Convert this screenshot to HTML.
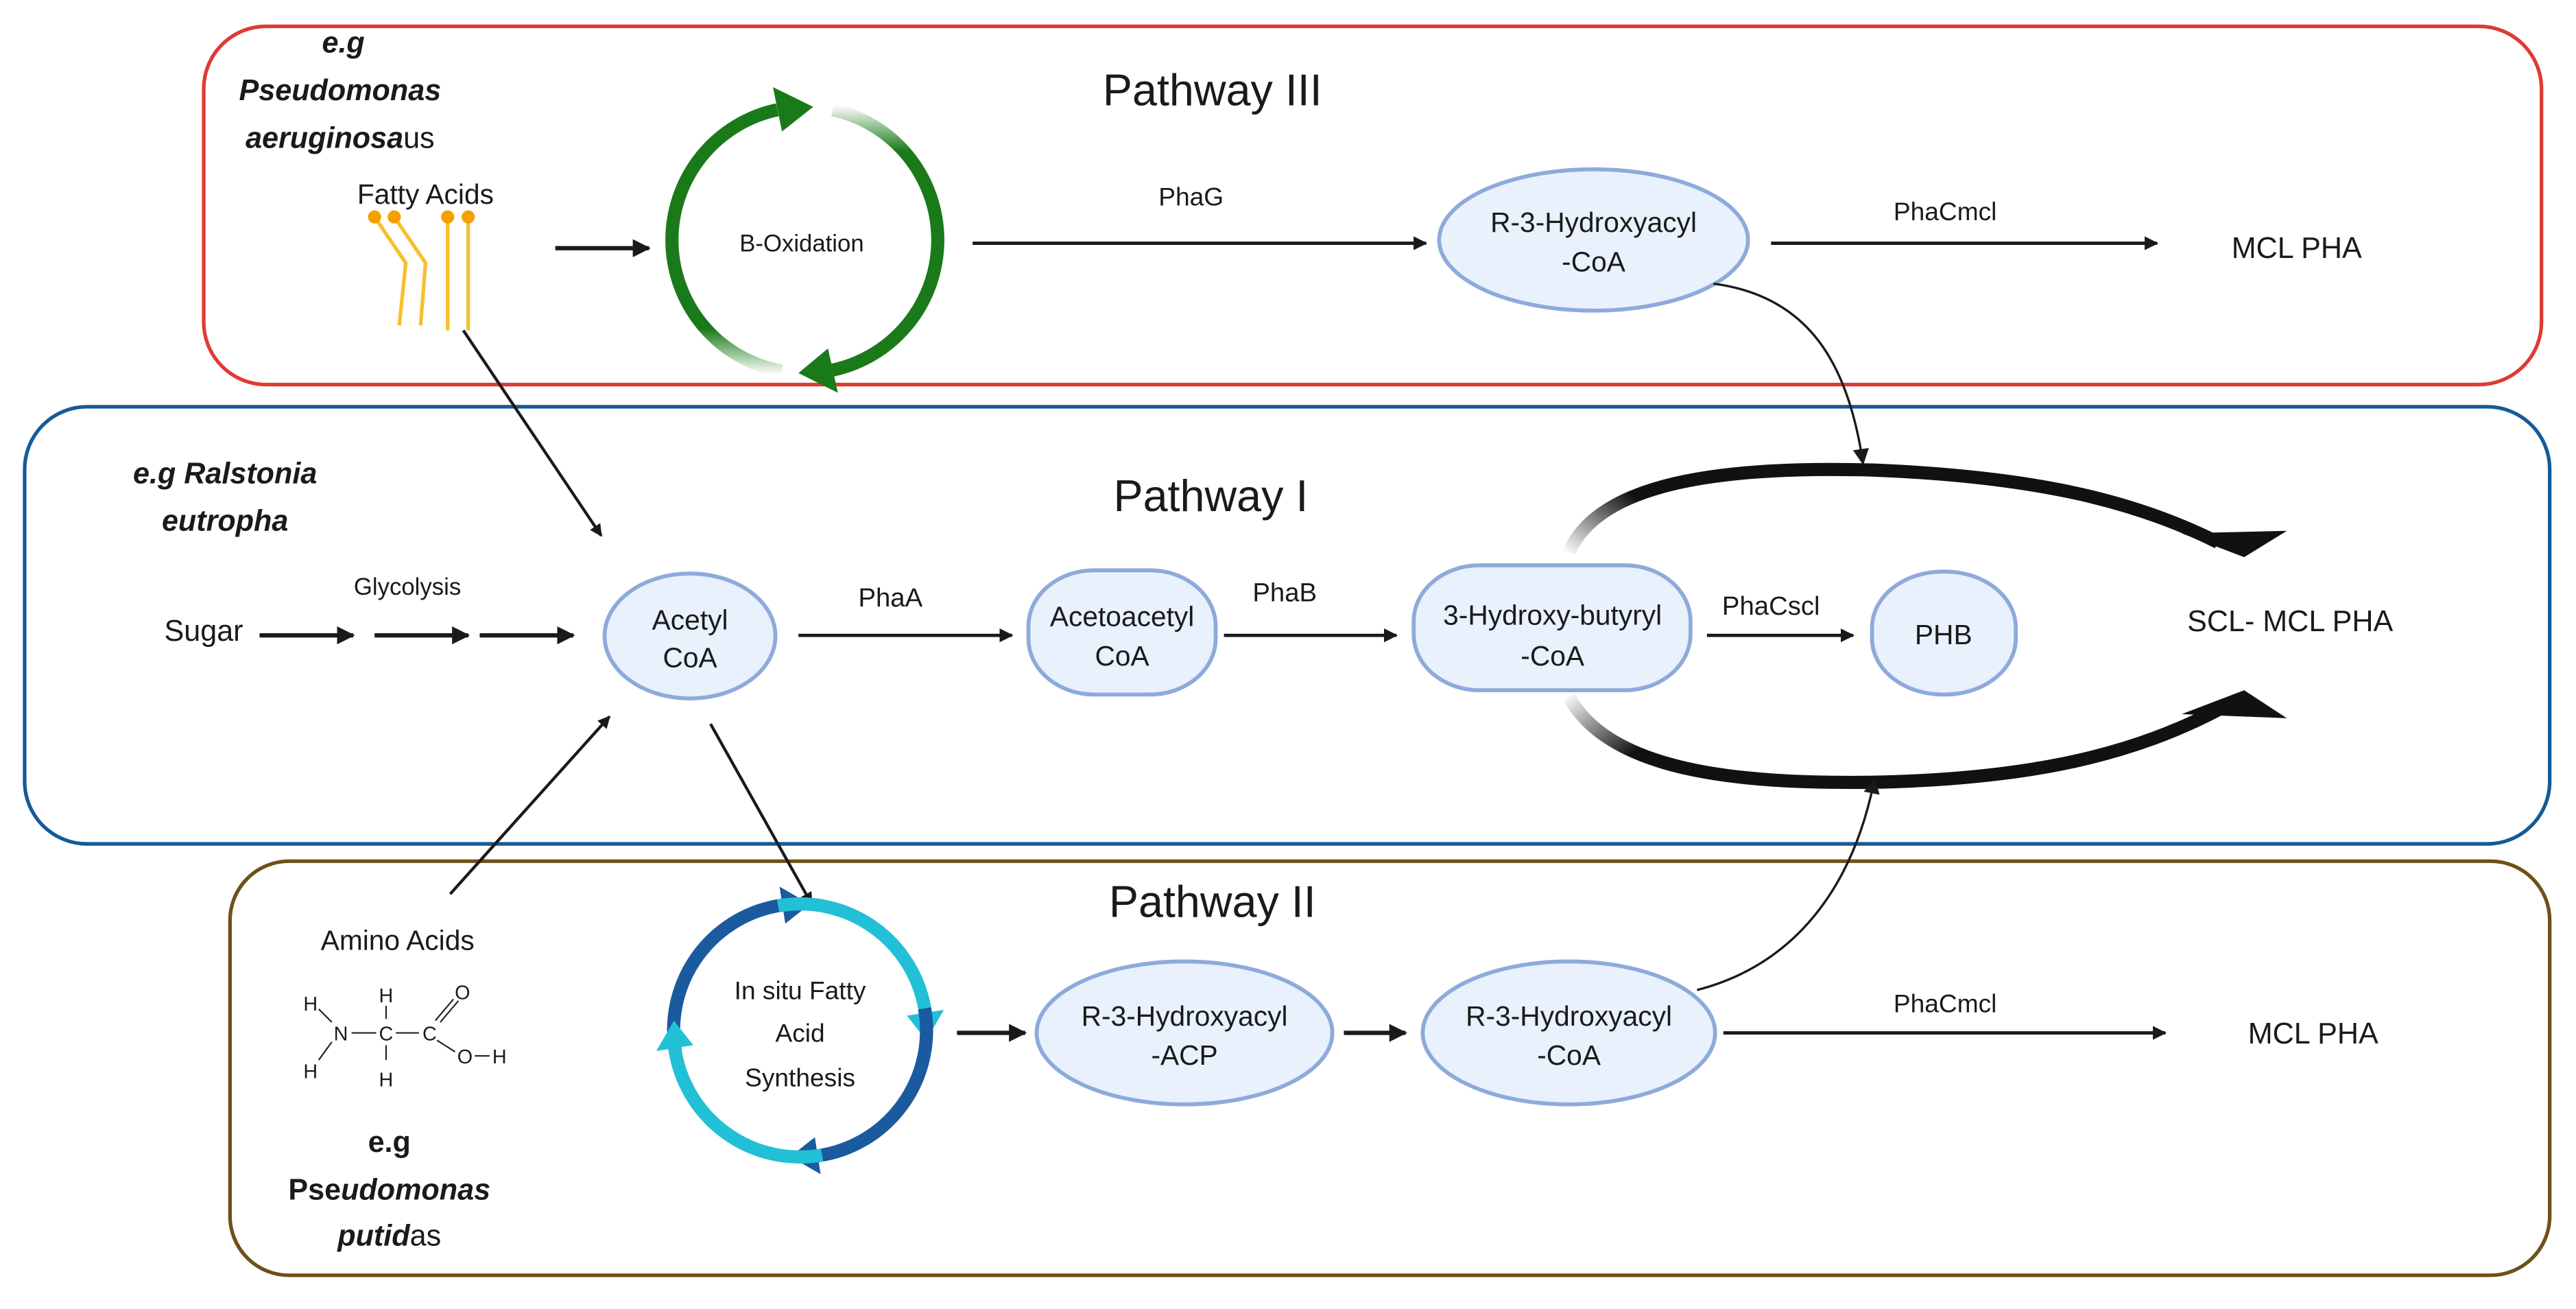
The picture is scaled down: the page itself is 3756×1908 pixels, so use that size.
<!DOCTYPE html>
<html><head><meta charset="utf-8"><style>
html,body{margin:0;padding:0;background:#fff;}
svg{display:block;}
text{font-family:"Liberation Sans",sans-serif;fill:#1a1a1a;}
</style></head><body>
<svg width="3756" height="1908" viewBox="0 0 1568 796.5" xmlns="http://www.w3.org/2000/svg">
<defs>
<marker id="ah" viewBox="0 0 10 10" refX="9" refY="5" markerWidth="4.2" markerHeight="4.2" orient="auto" markerUnits="strokeWidth"><path d="M0,0 L10,5 L0,10 z" fill="#1a1a1a"/></marker>
<marker id="ahs" viewBox="0 0 10 10" refX="9" refY="5" markerWidth="7" markerHeight="7" orient="auto" markerUnits="strokeWidth"><path d="M0,0 L10,5 L0,10 z" fill="#1a1a1a"/></marker>
<linearGradient id="gL" gradientUnits="userSpaceOnUse" x1="0" y1="228" x2="0" y2="200"><stop offset="0" stop-color="#1a7a1a" stop-opacity="0"/><stop offset="1" stop-color="#1a7a1a"/></linearGradient>
<linearGradient id="gR" gradientUnits="userSpaceOnUse" x1="0" y1="64" x2="0" y2="92"><stop offset="0" stop-color="#1a7a1a" stop-opacity="0"/><stop offset="1" stop-color="#1a7a1a"/></linearGradient>
<linearGradient id="bT" gradientUnits="userSpaceOnUse" x1="955" y1="338" x2="985" y2="295"><stop offset="0" stop-color="#111" stop-opacity="0"/><stop offset="1" stop-color="#111"/></linearGradient>
<linearGradient id="bB" gradientUnits="userSpaceOnUse" x1="955" y1="422" x2="985" y2="465"><stop offset="0" stop-color="#111" stop-opacity="0"/><stop offset="1" stop-color="#111"/></linearGradient>
</defs>

<!-- boxes -->
<rect x="124" y="16" width="1423" height="218" rx="38" fill="none" stroke="#e03a34" stroke-width="2.2"/>
<rect x="15" y="247.5" width="1537" height="266" rx="38" fill="none" stroke="#155a96" stroke-width="2.2"/>
<rect x="140" y="524" width="1412" height="252" rx="36" fill="none" stroke="#6e5018" stroke-width="2.2"/>

<!-- titles -->
<text x="738" y="64" font-size="27" text-anchor="middle">Pathway III</text>
<text x="737" y="311" font-size="27" text-anchor="middle">Pathway I</text>
<text x="738" y="558" font-size="27" text-anchor="middle">Pathway II</text>

<!-- pathway III -->
<g font-weight="bold" font-style="italic" font-size="18" text-anchor="middle">
<text x="209" y="32">e.g</text>
<text x="207" y="61">Pseudomonas</text>
<text x="207" y="90">aeruginosa<tspan font-style="normal" font-weight="normal">us</tspan></text>
</g>
<text x="259" y="124" font-size="17" text-anchor="middle">Fatty Acids</text>
<g stroke="#f6c02c" stroke-width="2.2" fill="none">
<polyline points="228,132 247,160 243,198"/>
<polyline points="240,132 259,160 256,198"/>
<line x1="272.5" y1="132" x2="272.5" y2="201"/>
<line x1="285" y1="132" x2="285" y2="201"/>
</g>
<g fill="#f5a000"><circle cx="228" cy="132" r="4"/><circle cx="240" cy="132" r="4"/><circle cx="272.5" cy="132" r="4"/><circle cx="285" cy="132" r="4"/></g>
<line x1="338" y1="151" x2="395" y2="151" stroke="#1a1a1a" stroke-width="2.6" marker-end="url(#ah)"/>

<path d="M475.9,225.8 A81,81 0 0 1 473.2,66.8" fill="none" stroke="url(#gL)" stroke-width="8"/>
<polygon points="470.5,53 495,65 476,80" fill="#1a7a1a"/>
<path d="M506.8,66.8 A81,81 0 0 1 506.8,225.2" fill="none" stroke="url(#gR)" stroke-width="8"/>
<polygon points="510,239 486,227 504,212" fill="#1a7a1a"/>
<text x="488" y="153" font-size="14.5" text-anchor="middle">B-Oxidation</text>

<line x1="592" y1="148" x2="868" y2="148" stroke="#1a1a1a" stroke-width="2" marker-end="url(#ah)"/>
<text x="725" y="125" font-size="15.5" text-anchor="middle">PhaG</text>
<ellipse cx="970" cy="146" rx="94" ry="43" fill="#e8f1fc" stroke="#8eaadb" stroke-width="2.4"/>
<text x="970" y="141" font-size="17" text-anchor="middle">R-3-Hydroxyacyl</text>
<text x="970" y="165" font-size="17" text-anchor="middle">-CoA</text>
<line x1="1078" y1="148" x2="1313" y2="148" stroke="#1a1a1a" stroke-width="2" marker-end="url(#ah)"/>
<text x="1184" y="134" font-size="15.5" text-anchor="middle">PhaCmcl</text>
<text x="1398" y="157" font-size="18" text-anchor="middle">MCL PHA</text>
<path d="M1043,172.6 C1100,180 1125,220 1134,282" fill="none" stroke="#1a1a1a" stroke-width="1.4" marker-end="url(#ahs)"/>

<!-- pathway I -->
<g font-weight="bold" font-style="italic" font-size="18" text-anchor="middle">
<text x="137" y="294">e.g Ralstonia</text>
<text x="137" y="323">eutropha</text>
</g>
<text x="124" y="390" font-size="18" text-anchor="middle">Sugar</text>
<text x="248" y="362" font-size="14.5" text-anchor="middle">Glycolysis</text>
<g stroke="#1a1a1a" stroke-width="2.6" marker-end="url(#ah)">
<line x1="158" y1="386.6" x2="215" y2="386.6"/>
<line x1="228" y1="386.6" x2="285" y2="386.6"/>
<line x1="292" y1="386.6" x2="349" y2="386.6"/>
</g>
<line x1="282" y1="201" x2="366" y2="326" stroke="#1a1a1a" stroke-width="1.8" marker-end="url(#ah)"/>
<ellipse cx="420" cy="387" rx="52" ry="38" fill="#e8f1fc" stroke="#8eaadb" stroke-width="2.4"/>
<text x="420" y="383" font-size="17" text-anchor="middle">Acetyl</text>
<text x="420" y="406" font-size="17" text-anchor="middle">CoA</text>
<line x1="486" y1="386.6" x2="616" y2="386.6" stroke="#1a1a1a" stroke-width="2" marker-end="url(#ah)"/>
<text x="542" y="369" font-size="16" text-anchor="middle">PhaA</text>
<rect x="626" y="347" width="114" height="75.6" rx="40" ry="34" fill="#e8f1fc" stroke="#8eaadb" stroke-width="2.4"/>
<text x="683" y="381" font-size="17" text-anchor="middle">Acetoacetyl</text>
<text x="683" y="405" font-size="17" text-anchor="middle">CoA</text>
<line x1="745" y1="386.6" x2="850" y2="386.6" stroke="#1a1a1a" stroke-width="2" marker-end="url(#ah)"/>
<text x="782" y="366" font-size="16" text-anchor="middle">PhaB</text>
<rect x="860.5" y="344" width="168.5" height="76" rx="40" ry="34" fill="#e8f1fc" stroke="#8eaadb" stroke-width="2.4"/>
<text x="945" y="380" font-size="17" text-anchor="middle">3-Hydroxy-butyryl</text>
<text x="945" y="405" font-size="17" text-anchor="middle">-CoA</text>
<line x1="1039" y1="386.6" x2="1128" y2="386.6" stroke="#1a1a1a" stroke-width="2" marker-end="url(#ah)"/>
<text x="1078" y="374" font-size="16" text-anchor="middle">PhaCscl</text>
<rect x="1139.5" y="347.8" width="87.5" height="74.8" rx="43" ry="34" fill="#e8f1fc" stroke="#8eaadb" stroke-width="2.4"/>
<text x="1183" y="392" font-size="17" text-anchor="middle">PHB</text>
<text x="1394" y="384" font-size="18" text-anchor="middle">SCL- MCL PHA</text>

<path d="M955,336 C975,290 1060,284 1140,286 C1240,290 1300,305 1350,330" fill="none" stroke="url(#bT)" stroke-width="8"/>
<polygon points="1328,324.5 1392,323 1366,339" fill="#111"/>
<path d="M955,424 C980,470 1060,477 1140,476 C1240,474 1300,458 1350,432" fill="none" stroke="url(#bB)" stroke-width="8"/>
<polygon points="1328,434.5 1392,437 1366,420" fill="#111"/>

<!-- pathway II -->
<line x1="274" y1="544" x2="371" y2="436" stroke="#1a1a1a" stroke-width="1.8" marker-end="url(#ah)"/>
<line x1="432.5" y1="440.5" x2="494" y2="550" stroke="#1a1a1a" stroke-width="1.8" marker-end="url(#ah)"/>
<text x="242" y="578" font-size="17" text-anchor="middle">Amino Acids</text>
<g font-family="'DejaVu Sans',sans-serif" font-size="12" fill="#222" text-anchor="middle">
<text x="189" y="615">H</text>
<text x="207.5" y="633">N</text>
<text x="235" y="633">C</text>
<text x="261.5" y="633">C</text>
<text x="281.5" y="608">O</text>
<text x="235" y="610">H</text>
<text x="189" y="656">H</text>
<text x="235" y="661">H</text>
<text x="283" y="647">O</text>
<text x="304" y="647">H</text>
</g>
<g stroke="#222" stroke-width="0.9">
<line x1="194" y1="614" x2="202" y2="622"/>
<line x1="194" y1="645" x2="202" y2="634"/>
<line x1="214" y1="628.5" x2="229" y2="628.5"/>
<line x1="241" y1="628.5" x2="255" y2="628.5"/>
<line x1="235" y1="612" x2="235" y2="620"/>
<line x1="235" y1="636" x2="235" y2="645"/>
<line x1="265" y1="621" x2="276" y2="608"/>
<line x1="268" y1="622" x2="279" y2="609"/>
<line x1="266" y1="633" x2="277" y2="640"/>
<line x1="289" y1="642.5" x2="298" y2="642.5"/>
</g>
<g font-weight="bold" font-size="18" text-anchor="middle">
<text x="237" y="701">e.g</text>
<text x="237" y="730">Pse<tspan font-style="italic">udomonas</tspan></text>
<text x="237" y="758"><tspan font-style="italic">putid</tspan><tspan font-weight="normal">as</tspan></text>
</g>

<g transform="translate(487,627)">
<g><path d="M-75.8,13.4 A77,77 0 0 1 -10.7,-76.3" fill="none" stroke="#1a5a9e" stroke-width="8"/><polygon points="-12.5,-87.5 6,-76.8 -9,-65" fill="#1a5a9e"/></g>
<g transform="rotate(90)"><path d="M-75.8,13.4 A77,77 0 0 1 -10.7,-76.3" fill="none" stroke="#22c0d6" stroke-width="8"/><polygon points="-12.5,-87.5 6,-76.8 -9,-65" fill="#22c0d6"/></g>
<g transform="rotate(180)"><path d="M-75.8,13.4 A77,77 0 0 1 -10.7,-76.3" fill="none" stroke="#1a5a9e" stroke-width="8"/><polygon points="-12.5,-87.5 6,-76.8 -9,-65" fill="#1a5a9e"/></g>
<g transform="rotate(270)"><path d="M-75.8,13.4 A77,77 0 0 1 -10.7,-76.3" fill="none" stroke="#22c0d6" stroke-width="8"/><polygon points="-12.5,-87.5 6,-76.8 -9,-65" fill="#22c0d6"/></g>
</g>
<text x="487" y="608" font-size="15.5" text-anchor="middle">In situ Fatty</text>
<text x="487" y="634" font-size="15.5" text-anchor="middle">Acid</text>
<text x="487" y="661" font-size="15.5" text-anchor="middle">Synthesis</text>

<line x1="582.5" y1="628.5" x2="624" y2="628.5" stroke="#1a1a1a" stroke-width="2.6" marker-end="url(#ah)"/>
<ellipse cx="721" cy="628.5" rx="90" ry="43.5" fill="#e8f1fc" stroke="#8eaadb" stroke-width="2.4"/>
<text x="721" y="624" font-size="17" text-anchor="middle">R-3-Hydroxyacyl</text>
<text x="721" y="648" font-size="17" text-anchor="middle">-ACP</text>
<line x1="818" y1="628.5" x2="855.5" y2="628.5" stroke="#1a1a1a" stroke-width="2.6" marker-end="url(#ah)"/>
<ellipse cx="955" cy="628.5" rx="89" ry="43.5" fill="#e8f1fc" stroke="#8eaadb" stroke-width="2.4"/>
<text x="955" y="624" font-size="17" text-anchor="middle">R-3-Hydroxyacyl</text>
<text x="955" y="648" font-size="17" text-anchor="middle">-CoA</text>
<line x1="1049" y1="628.5" x2="1318" y2="628.5" stroke="#1a1a1a" stroke-width="2" marker-end="url(#ah)"/>
<text x="1184" y="616" font-size="15.5" text-anchor="middle">PhaCmcl</text>
<text x="1408" y="635" font-size="18" text-anchor="middle">MCL PHA</text>
<path d="M1033,602.4 C1100,585 1130,530 1141,474" fill="none" stroke="#1a1a1a" stroke-width="1.4" marker-end="url(#ahs)"/>
</svg>
</body></html>
